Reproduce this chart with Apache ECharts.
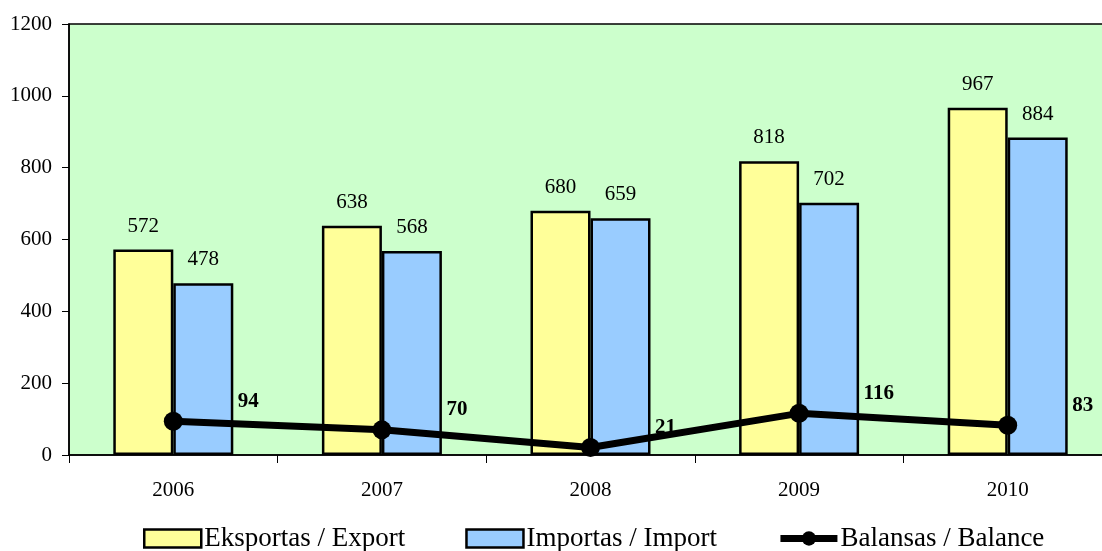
<!DOCTYPE html>
<html><head><meta charset="utf-8">
<script src="https://cdn.jsdelivr.net/npm/echarts@6/dist/echarts.min.js"></script>
<style>html,body{margin:0;padding:0;background:#fff;overflow:hidden}#c{width:1102px;height:551px}</style>
</head><body><div id="c"></div>
<script>
const categories = ['2006','2007','2008','2009','2010'];
const exportVals = [572, 638, 680, 818, 967];
const importVals = [478, 568, 659, 702, 884];
const balanceVals = [94, 70, 21, 116, 83];
const seriesNames = ['Eksportas / Export', 'Importas / Import', 'Balansas / Balance'];

const font = '"Liberation Serif", "Times New Roman", serif';
const chart = echarts.init(document.getElementById('c'), null, {renderer: 'canvas'});
chart.setOption({
  animation: false,
  textStyle: {fontFamily: font},
  grid: {left: 69, width: 1043, top: 24, height: 431, show: true, backgroundColor: '#CCFFCC',
         borderWidth: 1.5, borderColor: '#000',
         outerBoundsMode: 'none', containLabel: false},
  legend: {
    top: 525, left: 143, padding: 0,
    itemWidth: 57, itemHeight: 18, itemGap: 60,
    textStyle: {fontFamily: font, fontSize: 27, color: '#000', padding: [0,0,0,-2]},
    data: [
      {name: seriesNames[0], icon: 'rect', itemStyle: {borderWidth: 2.5, borderColor: '#000'}},
      {name: seriesNames[1], icon: 'rect', itemStyle: {borderWidth: 2.5, borderColor: '#000'}},
      {name: seriesNames[2], lineStyle: {width: 7}}
    ]
  },
  xAxis: {
    type: 'category', data: categories,
    axisLine: {lineStyle: {color: '#000', width: 1.5}},
    axisTick: {show: true, length: 8, lineStyle: {color: '#000'}},
    axisLabel: {fontFamily: font, fontSize: 21, color: '#000', margin: 25}
  },
  yAxis: {
    type: 'value', min: 0, max: 1200, interval: 200,
    axisLine: {show: true, lineStyle: {color: '#000', width: 1.5}},
    axisTick: {show: true, length: 7, lineStyle: {color: '#000'}},
    splitLine: {show: false},
    axisLabel: {fontFamily: font, fontSize: 21, color: '#000', margin: 17, formatter: v => String(v)}
  },
  series: [
    {
      name: seriesNames[0], type: 'bar', data: exportVals,
      barWidth: 60, barGap: '0%',
      itemStyle: {color: '#FFFF99', borderColor: '#000', borderWidth: 2.5},
      label: {show: true, position: 'top', distance: 13, fontFamily: font, fontSize: 21, color: '#000'}
    },
    {
      name: seriesNames[1], type: 'bar', data: importVals,
      barWidth: 60, barGap: '0%',
      itemStyle: {color: '#99CCFF', borderColor: '#000', borderWidth: 2.5},
      label: {show: true, position: 'top', distance: 13, fontFamily: font, fontSize: 21, color: '#000'}
    },
    {
      name: seriesNames[2], type: 'line', data: balanceVals,
      symbol: 'circle', symbolSize: 19,
      lineStyle: {color: '#000', width: 7},
      itemStyle: {color: '#000'},
      label: {show: true, position: 'right', offset: [50, -20], fontFamily: font, fontSize: 21, fontWeight: 'bold', color: '#000'},
      z: 5
    }
  ]
});
</script></body></html>
